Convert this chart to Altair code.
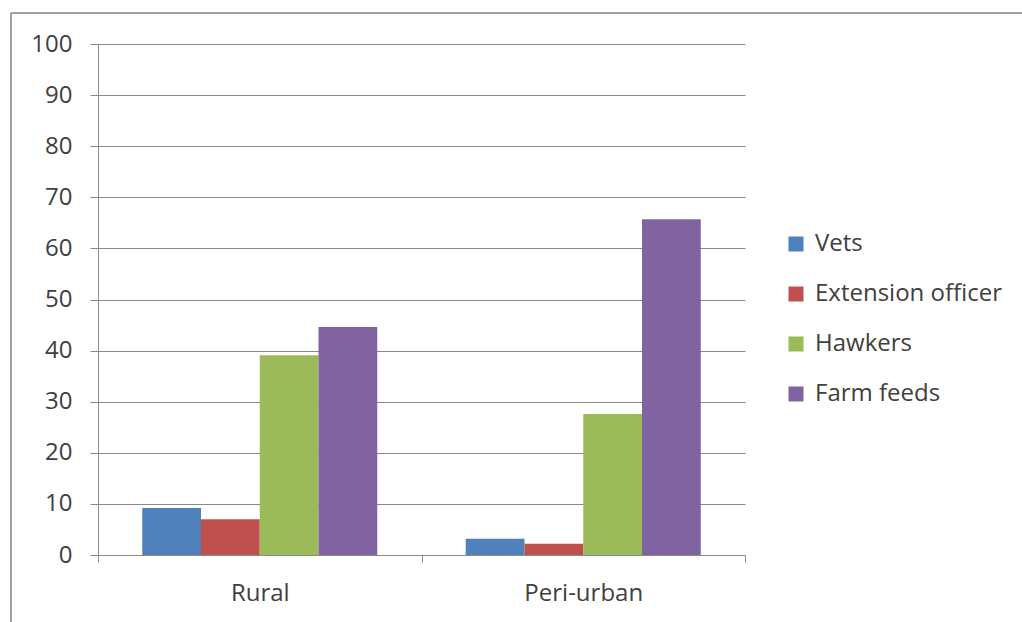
import altair as alt
import pandas as pd

# Share of respondents by source of information, per area
areas = ["Rural", "Peri-urban"]
sources = ["Vets", "Extension officer", "Hawkers", "Farm feeds"]
rural = [9.2, 7.0, 39.1, 44.6]
peri_urban = [3.2, 2.2, 27.6, 65.7]
colors = ["#4F81BD", "#C0504D", "#9BBB59", "#8064A2"]

rows = []
for area, vals in zip(areas, [rural, peri_urban]):
    for src, v in zip(sources, vals):
        rows.append({"area": area, "source": src, "value": v})
df = pd.DataFrame(rows)

W, H = 647, 511
PAD_L, PAD_T = 98, 44
FONT = "Open Sans"
FS = 24
TEXT = "#404040"
GRID = "#8a8a8a"

bars = alt.Chart(df).mark_bar().encode(
    x=alt.X(
        "area:N",
        sort=areas,
        title=None,
        scale=alt.Scale(paddingInner=0, paddingOuter=0),
        axis=alt.Axis(
            tickBand="extent",
            labelAngle=0,
            labelFontSize=FS,
            labelFont=FONT,
            labelColor=TEXT,
            labelPadding=19,
            tickSize=7,
            tickColor=GRID,
            domainColor=GRID,
            grid=False,
        ),
    ),
    xOffset=alt.XOffset(
        "source:N",
        sort=sources,
        scale=alt.Scale(paddingInner=0, paddingOuter=0.753),
    ),
    y=alt.Y(
        "value:Q",
        title=None,
        scale=alt.Scale(domain=[0, 100], nice=False),
        axis=alt.Axis(
            values=list(range(0, 101, 10)),
            labelFontSize=FS,
            labelFont=FONT,
            labelColor=TEXT,
            labelPadding=18,
            tickSize=8,
            tickColor=GRID,
            domainColor=GRID,
            gridColor=GRID,
            gridWidth=1,
        ),
    ),
    color=alt.Color(
        "source:N",
        sort=sources,
        scale=alt.Scale(domain=sources, range=colors),
        legend=alt.Legend(
            title=None,
            orient="none",
            legendX=686,
            legendY=188,
            symbolType="square",
            symbolSize=225,
            symbolStrokeWidth=0,
            labelFontSize=FS,
            labelFont=FONT,
            labelColor=TEXT,
            labelLimit=400,
            rowPadding=26,
            labelOffset=7,
        ),
    ),
)

# Outer frame lines (left and top edges of the chart box)
frame_left = alt.Chart(df).mark_rule(color="#a0a0a0", strokeWidth=1).encode(
    x=alt.value(11 - PAD_L), y=alt.value(13 - PAD_T), y2=alt.value(622 - PAD_T)
)
frame_top = alt.Chart(df).mark_rule(color="#a0a0a0", strokeWidth=1).encode(
    x=alt.value(11 - PAD_L), x2=alt.value(1022 - PAD_L), y=alt.value(13 - PAD_T)
)

chart = (
    alt.layer(bars, frame_left, frame_top)
    .properties(
        width=W,
        height=H,
        autosize=alt.AutoSizeParams(type="none"),
        padding={"left": PAD_L, "top": PAD_T, "right": 1022 - PAD_L - W, "bottom": 622 - PAD_T - H},
        background="white",
    )
    .configure_view(stroke=None)
)

chart.save("out.html", embed_options={"renderer": "svg", "actions": False})
